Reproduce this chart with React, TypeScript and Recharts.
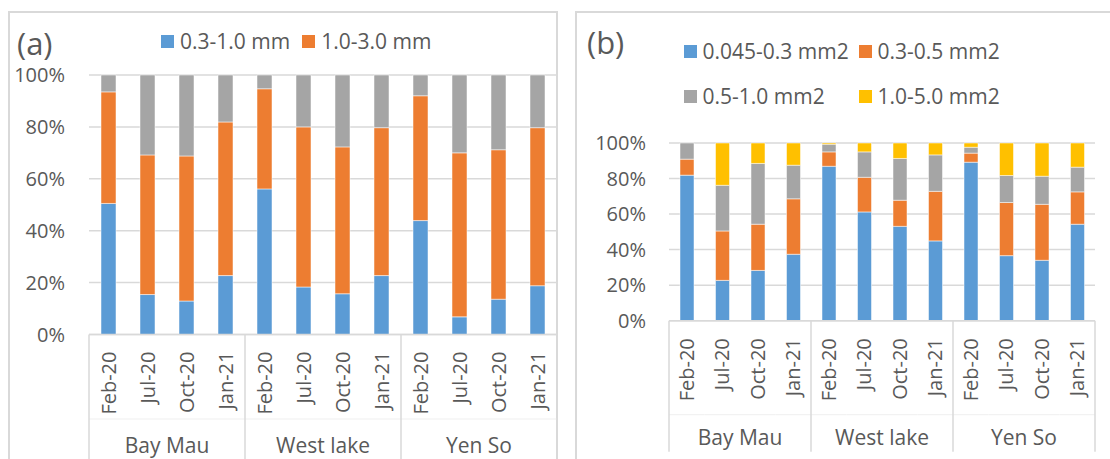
import React from 'react'
import { BarChart, Bar, XAxis, YAxis, CartesianGrid, Legend } from 'recharts'

// categories
const months = ['Feb-20', 'Jul-20', 'Oct-20', 'Jan-21']
const sites = ['Bay Mau', 'West lake', 'Yen So']

// (a) length classes, % of each sample
const lenSmall = [50.5, 15.4, 12.9, 22.7, 56.1, 18.3, 15.7, 22.7, 43.9, 6.8, 13.6, 18.8]
const lenMid = [43.0, 53.8, 55.9, 59.2, 38.6, 61.7, 56.6, 57.0, 48.1, 63.2, 57.6, 60.9]
const lenLarge = [6.5, 30.8, 31.2, 18.1, 5.3, 20.0, 27.7, 20.3, 8.0, 30.0, 28.8, 20.3]

// (b) area classes, % of each sample
const area1 = [81.9, 22.7, 28.3, 37.4, 86.9, 61.2, 53.1, 44.9, 89.2, 36.6, 34.0, 54.3]
const area2 = [9.0, 27.8, 26.0, 31.2, 8.1, 19.5, 14.7, 27.9, 5.1, 29.9, 31.5, 18.2]
const area3 = [9.1, 25.7, 34.2, 18.9, 4.3, 14.3, 23.5, 20.5, 3.3, 15.2, 15.8, 13.9]
const area4 = [0, 23.8, 11.5, 12.5, 0.7, 5.0, 8.7, 6.7, 2.4, 18.3, 18.7, 13.6]

const pctTicks = [0, 0.2, 0.4, 0.6, 0.8, 1]

const BLUE = '#5B9BD5'
const ORANGE = '#ED7D31'
const GRAY = '#A5A5A5'
const YELLOW = '#FFC000'
const TEXT = '#595959'
const GRID = '#D9D9D9'
const FONT = '"Open Sans", sans-serif'

const rows = sites.flatMap((site, s) =>
  months.map((month, m) => {
    const i = s * 4 + m
    return {
      month,
      site,
      a1: lenSmall[i],
      a2: lenMid[i],
      a3: lenLarge[i],
      b1: area1[i],
      b2: area2[i],
      b3: area3[i],
      b4: area4[i]
    }
  })
)

const pctFmt = (v: number) => `${Math.round(v * 100)}%`

interface TickOpts {
  band: number
  labelGap: number
  groupBase: number
  lineLen: number
  innerLine: number
}

const makeCategoryTick = (o: TickOpts) => (props: any) => {
  const { x, y, payload } = props
  const i = payload.index ?? props.index
  const half = payload.offset || o.band / 2
  const row = rows[i]
  return (
    <g>
      <text
        x={x}
        y={y + o.labelGap}
        dy="0.36em"
        transform={`rotate(-90, ${x}, ${y + o.labelGap})`}
        textAnchor="end"
        fill={TEXT}
        fontSize={20}
      >
        {row.month}
      </text>
      <line x1={x - half} x2={x + half} y1={y + o.innerLine} y2={y + o.innerLine} stroke="#EFEFEF" />
      {i % 4 === 0 && (
        <line x1={x - half} x2={x - half} y1={y} y2={y + o.lineLen} stroke={GRID} strokeWidth={1.5} />
      )}
      {i === rows.length - 1 && (
        <line x1={x + half} x2={x + half} y1={y} y2={y + o.lineLen} stroke={GRID} strokeWidth={1.5} />
      )}
      {i % 4 === 1 && (
        <text x={x + half} y={y + o.groupBase} textAnchor="middle" fill={TEXT} fontSize={21}>
          {row.site}
        </text>
      )}
    </g>
  )
}

const Swatch = ({ color }: { color: string }) => (
  <span style={{ display: 'inline-block', width: 13, height: 13, background: color, marginRight: 6 }} />
)

const shown = (payload: any[] | undefined) =>
  (payload || []).filter((e: any) => e.type !== 'none' && e.dataKey !== 'a3')

const LegendA = (props: any) => (
  <div style={{ display: 'flex', alignItems: 'center', fontSize: 21, color: TEXT, lineHeight: '28px' }}>
    {shown(props.payload).map((e: any) => (
      <div key={e.value} style={{ display: 'flex', alignItems: 'center', marginRight: 12, whiteSpace: 'nowrap' }}>
        <Swatch color={e.color} />
        {e.value}
      </div>
    ))}
  </div>
)

const LegendB = (props: any) => (
  <div style={{ display: 'flex', flexWrap: 'wrap', width: 352, fontSize: 21, color: TEXT, lineHeight: '45px' }}>
    {shown(props.payload).map((e: any) => (
      <div key={e.value} style={{ display: 'flex', alignItems: 'center', width: 175, whiteSpace: 'nowrap' }}>
        <Swatch color={e.color} />
        {e.value}
      </div>
    ))}
  </div>
)

const barStroke = { stroke: '#ffffff', strokeWidth: 0.5 }

export default function App() {
  return (
    <div
      style={{
        position: 'absolute',
        left: 0,
        top: 0,
        width: 1110,
        height: 459,
        overflow: 'hidden',
        background: '#fff',
        fontFamily: FONT
      }}
    >
      <div style={{ position: 'absolute', left: 8, top: 11, width: 550, height: 470, border: `2px solid ${GRID}`, boxSizing: 'border-box' }} />
      <div style={{ position: 'absolute', left: 575, top: 11, width: 600, height: 470, border: `2px solid ${GRID}`, boxSizing: 'border-box' }} />

      <div style={{ position: 'absolute', left: 0, top: 0 }}>
        <BarChart width={557} height={459} data={rows} margin={{ top: 75, right: 0, bottom: 0, left: 0 }} stackOffset="expand" barSize={15}>
          <CartesianGrid vertical={false} stroke={GRID} strokeWidth={1.5} />
          <XAxis
            dataKey="month"
            interval={0}
            height={124.5}
            tickLine={false}
            tickSize={0}
            tickMargin={0}
            axisLine={{ stroke: GRID, strokeWidth: 1.5 }}
            tick={makeCategoryTick({ band: 468 / 12, labelGap: 17, groupBase: 118.5, lineLen: 130, innerLine: 84.5 })}
          />
          <YAxis
            width={89}
            domain={[0, 1]}
            ticks={pctTicks}
            tickFormatter={pctFmt}
            axisLine={false}
            tickLine={false}
            tickSize={0}
            tickMargin={24}
            tick={{ fill: TEXT, fontSize: 20 }}
          />
          <Legend verticalAlign="middle" align="center" layout="horizontal" content={LegendA} wrapperStyle={{ left: 161, top: 27, width: 380, height: 28 }} />
          <Bar dataKey="a1" name="0.3-1.0 mm" stackId="s" fill={BLUE} {...barStroke} isAnimationActive={false} />
          <Bar dataKey="a2" name="1.0-3.0 mm" stackId="s" fill={ORANGE} {...barStroke} isAnimationActive={false} />
          <Bar dataKey="a3" name="other" stackId="s" fill={GRAY} {...barStroke} legendType="none" isAnimationActive={false} />
        </BarChart>
      </div>

      <div style={{ position: 'absolute', left: 560, top: 0 }}>
        <BarChart width={550} height={459} data={rows} margin={{ top: 143, right: 15, bottom: 0, left: 0 }} stackOffset="expand" barSize={14}>
          <CartesianGrid vertical={false} stroke={GRID} strokeWidth={1.5} />
          <XAxis
            dataKey="month"
            interval={0}
            height={138.3}
            tickLine={false}
            tickSize={0}
            tickMargin={0}
            axisLine={{ stroke: GRID, strokeWidth: 1.5 }}
            tick={makeCategoryTick({ band: 426 / 12, labelGap: 17.5, groupBase: 124.3, lineLen: 131, innerLine: 94 })}
          />
          <YAxis
            width={109}
            domain={[0, 1]}
            ticks={pctTicks}
            tickFormatter={pctFmt}
            axisLine={false}
            tickLine={false}
            tickSize={0}
            tickMargin={23}
            tick={{ fill: TEXT, fontSize: 20 }}
          />
          <Legend verticalAlign="middle" align="center" layout="horizontal" content={LegendB} wrapperStyle={{ left: 123.5, top: 29, width: 360, height: 90 }} />
          <Bar dataKey="b1" name="0.045-0.3 mm2" stackId="s" fill={BLUE} {...barStroke} isAnimationActive={false} />
          <Bar dataKey="b2" name="0.3-0.5 mm2" stackId="s" fill={ORANGE} {...barStroke} isAnimationActive={false} />
          <Bar dataKey="b3" name="0.5-1.0 mm2" stackId="s" fill={GRAY} {...barStroke} isAnimationActive={false} />
          <Bar dataKey="b4" name="1.0-5.0 mm2" stackId="s" fill={YELLOW} {...barStroke} isAnimationActive={false} />
        </BarChart>
      </div>

      <svg width={1110} height={459} style={{ position: 'absolute', left: 0, top: 0, pointerEvents: 'none' }}>
        <text x={17} y={55} fontSize={31} fill={TEXT} fontFamily={FONT}>(a)</text>
        <text x={587} y={54} fontSize={31} fill={TEXT} fontFamily={FONT}>(b)</text>
      </svg>
    </div>
  )
}
